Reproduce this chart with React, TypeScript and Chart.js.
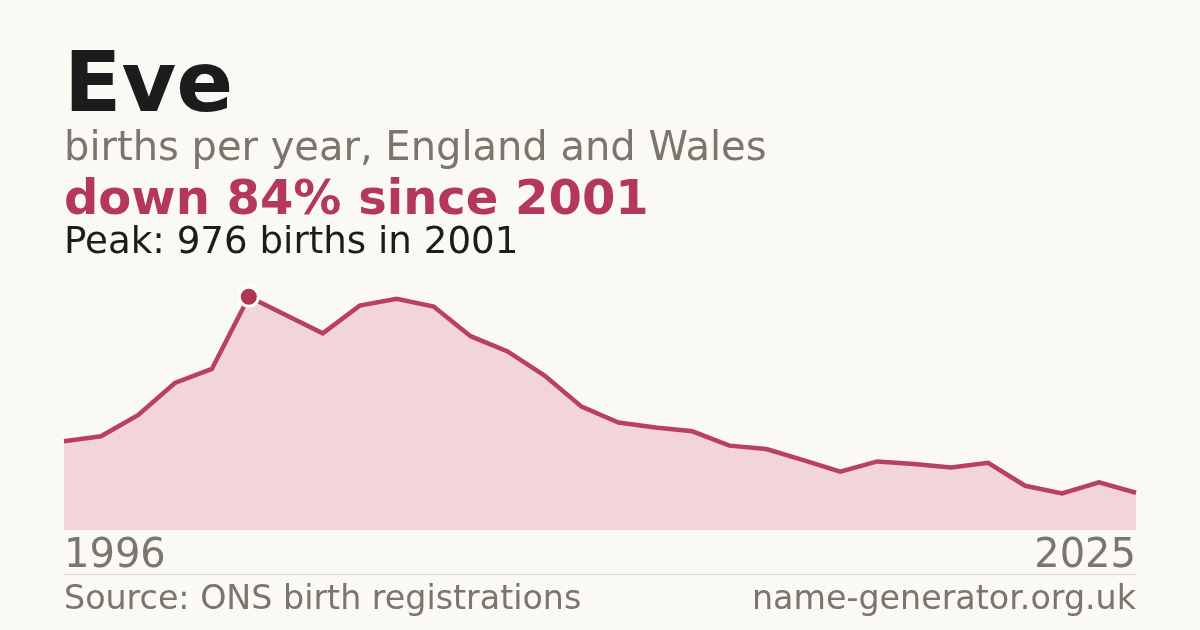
import React, { useEffect, useRef } from "react";
import { Chart, registerables } from "chart.js";

Chart.register(...registerables);

const years: string[] = [
  "1996", "1997", "1998", "1999", "2000", "2001", "2002", "2003", "2004", "2005",
  "2006", "2007", "2008", "2009", "2010", "2011", "2012", "2013", "2014", "2015",
  "2016", "2017", "2018", "2019", "2020", "2021", "2022", "2023", "2024", "2025",
];
const births: number[] = [
  371, 392, 480, 615, 674, 976, 900, 823, 939, 967,
  935, 811, 747, 646, 516, 450, 429, 413, 353, 339,
  292, 244, 287, 276, 262, 281, 185, 153, 199, 156,
];
const yMax = 1000;

const FONT = '"DejaVu Sans", sans-serif';
const BG = "#faf9f4";
const RED = "#b3385a";
const GREY = "#7a756d";
const INK = "#1c1c1c";

const peakIndex = births.indexOf(Math.max(...births));
const peakValue = births[peakIndex];
const lastValue = births[births.length - 1];
const pct = Math.round((1 - lastValue / peakValue) * 100);

export default function App() {
  const ref = useRef<HTMLCanvasElement | null>(null);

  useEffect(() => {
    document.body.style.margin = "0";
    document.body.style.background = BG;
    const canvas = ref.current;
    if (!canvas) return;
    const chart = new Chart(canvas, {
      type: "line",
      data: {
        labels: years,
        datasets: [
          {
            data: births,
            borderColor: "#b9405f",
            borderWidth: 4.5,
            backgroundColor: "#f2d5da",
            fill: "origin",
            tension: 0,
            clip: false as any,
            pointRadius: (c: any) => (c.dataIndex === peakIndex ? 9.5 : 0),
            pointHoverRadius: (c: any) => (c.dataIndex === peakIndex ? 9.5 : 0),
            pointBackgroundColor: "#b3344f",
            pointBorderColor: "#ffffff",
            pointBorderWidth: 3,
          },
        ],
      },
      options: {
        animation: false,
        responsive: false,
        maintainAspectRatio: false,
        events: [],
        layout: { padding: { left: 64, right: 64, top: 291, bottom: 46 } },
        plugins: { legend: { display: false }, tooltip: { enabled: false } },
        scales: {
          x: {
            offset: false,
            grid: { display: false, drawTicks: false },
            border: { display: false },
            ticks: {
              autoSkip: false,
              maxRotation: 0,
              minRotation: 0,
              align: "inner",
              padding: 3,
              color: GREY,
              font: { family: FONT, size: 40 },
              callback: (_v: any, i: number) =>
                i === 0 || i === years.length - 1 ? years[i] : "",
            },
          },
          y: {
            display: false,
            min: 0,
            max: yMax,
          },
        },
      },
    });
    return () => chart.destroy();
  }, []);

  const text = (
    content: string,
    top: number,
    size: number,
    color: string,
    weight: number,
    extra: React.CSSProperties = {}
  ) => (
    <div
      style={{
        position: "absolute",
        top,
        left: 64,
        fontFamily: FONT,
        fontSize: size,
        lineHeight: `${size}px`,
        color,
        fontWeight: weight,
        whiteSpace: "nowrap",
        ...extra,
      }}
    >
      {content}
    </div>
  );

  return (
    <div
      style={{
        position: "fixed",
        left: 0,
        top: 0,
        width: 1200,
        height: 630,
        background: BG,
        overflow: "hidden",
      }}
    >
      <canvas
        ref={ref}
        width={1200}
        height={630}
        style={{ position: "absolute", left: 0, top: 0, width: 1200, height: 630 }}
      />
      {text("Eve", 39.5, 84, INK, 700)}
      {text("births per year, England and Wales", 125.5, 40, GREY, 400)}
      {text(`down ${pct}% since ${years[peakIndex]}`, 173.4, 48, RED, 700)}
      {text(`Peak: ${peakValue} births in ${years[peakIndex]}`, 222.0, 37.2, INK, 400)}
      <div
        style={{
          position: "absolute",
          left: 64,
          top: 574,
          width: 1072,
          height: 1,
          background: "#dedad2",
        }}
      />
      {text("Source: ONS birth registrations", 581.2, 33.3, GREY, 400)}
      {text("name-generator.org.uk", 581.2, 33.3, GREY, 400, {
        left: "auto",
        right: 64,
        textAlign: "right",
      })}
    </div>
  );
}
